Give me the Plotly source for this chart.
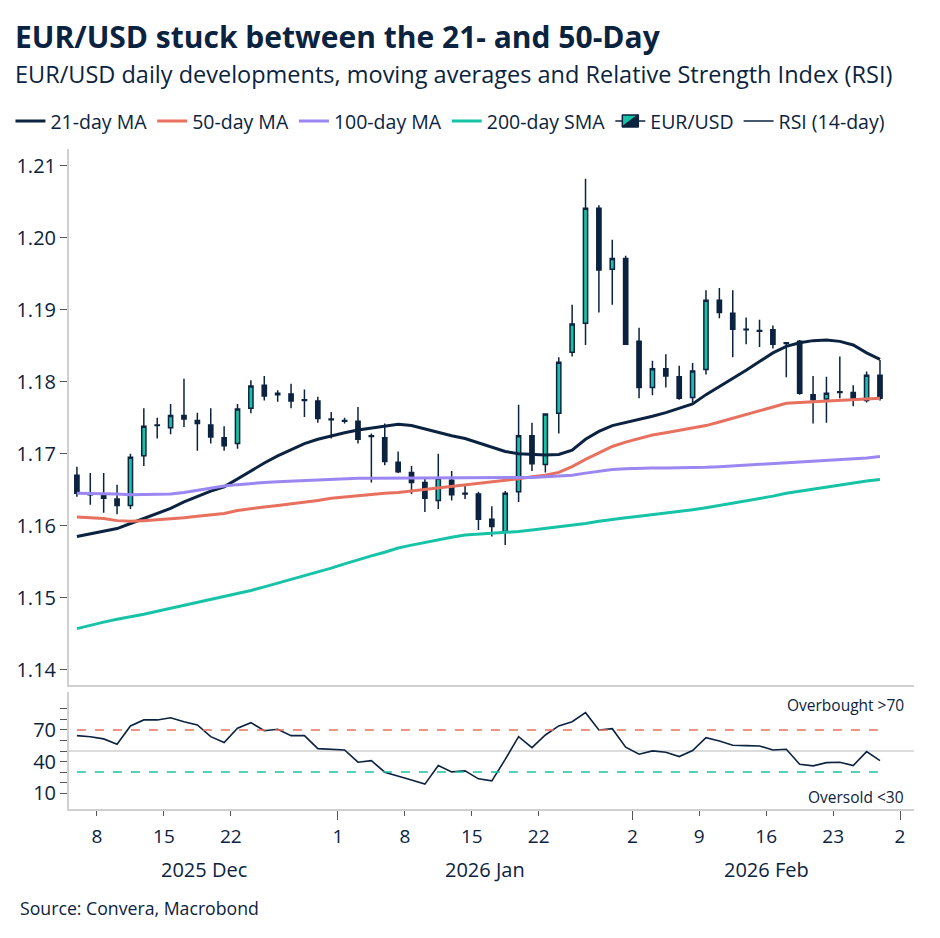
import plotly.graph_objects as go

# ---------------- data ----------------
dates = ["2025-12-04", "2025-12-05", "2025-12-08", "2025-12-09", "2025-12-10", "2025-12-11", "2025-12-12",
         "2025-12-15", "2025-12-16", "2025-12-17", "2025-12-18", "2025-12-19", "2025-12-22", "2025-12-23",
         "2025-12-24", "2025-12-25", "2025-12-26", "2025-12-29", "2025-12-30", "2025-12-31", "2026-01-01",
         "2026-01-02", "2026-01-05", "2026-01-06", "2026-01-07", "2026-01-08", "2026-01-09", "2026-01-12",
         "2026-01-13", "2026-01-14", "2026-01-15", "2026-01-16", "2026-01-19", "2026-01-20", "2026-01-21",
         "2026-01-22", "2026-01-23", "2026-01-26", "2026-01-27", "2026-01-28", "2026-01-29", "2026-01-30",
         "2026-02-02", "2026-02-03", "2026-02-04", "2026-02-05", "2026-02-06", "2026-02-09", "2026-02-10",
         "2026-02-11", "2026-02-12", "2026-02-13", "2026-02-16", "2026-02-17", "2026-02-18", "2026-02-19",
         "2026-02-20", "2026-02-23", "2026-02-24", "2026-02-25", "2026-02-26"]

eur_open = [1.1670, 1.1644, 1.1642, 1.1637, 1.1628, 1.1697, 1.1740, 1.1736, 1.1753, 1.1746, 1.1740, 1.1722,
            1.1714, 1.1763, 1.1795, 1.1782, 1.1783, 1.1775, 1.1773, 1.1748, 1.1746, 1.1745, 1.1725, 1.1722,
            1.1688, 1.1674, 1.1660, 1.1635, 1.1663, 1.1645, 1.1644, 1.1609, 1.1592, 1.1647, 1.1725, 1.1685,
            1.1756, 1.1841, 1.1881, 1.2041, 1.1956, 1.1971, 1.1856, 1.1792, 1.1818, 1.1807, 1.1778, 1.1817,
            1.1913, 1.1895, 1.1873, 1.1871, 1.1872, 1.1854, 1.1856, 1.1782, 1.1776, 1.1786, 1.1785, 1.1774,
            1.1809]
eur_high = [1.1682, 1.1673, 1.1673, 1.1657, 1.1700, 1.1763, 1.1750, 1.1769, 1.1804, 1.1757, 1.1763, 1.1738,
            1.1769, 1.1802, 1.1808, 1.1788, 1.1797, 1.1789, 1.1779, 1.1758, 1.1750, 1.1765, 1.1728, 1.1742,
            1.1703, 1.1683, 1.1666, 1.1700, 1.1676, 1.1657, 1.1647, 1.1627, 1.1648, 1.1768, 1.1743, 1.1756,
            1.1834, 1.1907, 1.2082, 1.2045, 1.1997, 1.1975, 1.1875, 1.1829, 1.1838, 1.1822, 1.1826, 1.1927,
            1.1930, 1.1927, 1.1889, 1.1886, 1.1878, 1.1855, 1.1858, 1.1808, 1.1807, 1.1835, 1.1795, 1.1814,
            1.1830]
eur_low = [1.1640, 1.1629, 1.1618, 1.1616, 1.1623, 1.1683, 1.1721, 1.1727, 1.1737, 1.1704, 1.1714, 1.1704,
           1.1707, 1.1756, 1.1774, 1.1772, 1.1763, 1.1751, 1.1743, 1.1721, 1.1742, 1.1714, 1.1660, 1.1684,
           1.1673, 1.1644, 1.1619, 1.1623, 1.1635, 1.1637, 1.1594, 1.1585, 1.1573, 1.1633, 1.1676, 1.1674,
           1.1728, 1.1835, 1.1851, 1.1896, 1.1907, 1.1851, 1.1777, 1.1781, 1.1792, 1.1775, 1.1771, 1.1810,
           1.1888, 1.1834, 1.1852, 1.1848, 1.1846, 1.1806, 1.1782, 1.1742, 1.1743, 1.1777, 1.1766, 1.1771,
           1.1774]
eur_close = [1.1645, 1.1643, 1.1638, 1.1628, 1.1695, 1.1738, 1.1739, 1.1753, 1.1748, 1.1742, 1.1723, 1.1711,
             1.1762, 1.1794, 1.1780, 1.1784, 1.1773, 1.1774, 1.1749, 1.1747, 1.1745, 1.1720, 1.1724, 1.1689,
             1.1675, 1.1660, 1.1638, 1.1666, 1.1643, 1.1644, 1.1609, 1.1599, 1.1645, 1.1725, 1.1686, 1.1755,
             1.1827, 1.1880, 1.2041, 1.1955, 1.1971, 1.1852, 1.1792, 1.1818, 1.1808, 1.1777, 1.1815, 1.1913,
             1.1896, 1.1873, 1.1872, 1.1870, 1.1852, 1.1853, 1.1784, 1.1775, 1.1784, 1.1785, 1.1777, 1.1809,
             1.1777]

ma21 = [1.1585, 1.1589, 1.1592, 1.1596, 1.1603, 1.1610, 1.1617, 1.1624, 1.1633, 1.1641, 1.1648, 1.1654,
        1.1665, 1.1677, 1.1687, 1.1697, 1.1706, 1.1714, 1.1720, 1.1725, 1.1729, 1.1733, 1.1736, 1.1739,
        1.1741, 1.1739, 1.1734, 1.1729, 1.1725, 1.1721, 1.1715, 1.1708, 1.1703, 1.1700, 1.1699, 1.1698,
        1.1699, 1.1705, 1.1720, 1.1731, 1.1739, 1.1743, 1.1747, 1.1752, 1.1757, 1.1763, 1.1769, 1.1782,
        1.1793, 1.1804, 1.1816, 1.1828, 1.1840, 1.1849, 1.1854, 1.1857, 1.1858, 1.1856, 1.1851, 1.1840,
        1.1831]
ma50 = [1.1612, 1.1611, 1.1610, 1.1607, 1.1606, 1.1607, 1.1608, 1.1609, 1.1611, 1.1613, 1.1615, 1.1617,
        1.1621, 1.1624, 1.1626, 1.1628, 1.1630, 1.1632, 1.1635, 1.1638, 1.1640, 1.1642, 1.1643, 1.1645,
        1.1646, 1.1648, 1.1650, 1.1652, 1.1654, 1.1656, 1.1659, 1.1661, 1.1663, 1.1665, 1.1668, 1.1670,
        1.1674, 1.1682, 1.1692, 1.1701, 1.1710, 1.1716, 1.1721, 1.1726, 1.1729, 1.1732, 1.1735, 1.1739,
        1.1744, 1.1749, 1.1755, 1.1760, 1.1765, 1.1770, 1.1771, 1.1772, 1.1773, 1.1774, 1.1775, 1.1776,
        1.1777]
ma100 = [1.1645, 1.1645, 1.1644, 1.1644, 1.1643, 1.1643, 1.1643, 1.1644, 1.1646, 1.1649, 1.1653, 1.1655,
         1.1657, 1.1659, 1.1660, 1.1661, 1.1662, 1.1663, 1.1664, 1.1665, 1.1665, 1.1666, 1.1666, 1.1666,
         1.1667, 1.1667, 1.1667, 1.1667, 1.1667, 1.1667, 1.1667, 1.1666, 1.1666, 1.1666, 1.1667, 1.1668,
         1.1669, 1.1670, 1.1673, 1.1676, 1.1678, 1.1679, 1.1680, 1.1680, 1.1680, 1.1680, 1.1681, 1.1681,
         1.1682, 1.1683, 1.1684, 1.1686, 1.1687, 1.1688, 1.1689, 1.1690, 1.1690, 1.1691, 1.1692, 1.1694,
         1.1696]
sma200 = [1.1457, 1.1462, 1.1466, 1.1470, 1.1473, 1.1477, 1.1481, 1.1485, 1.1489, 1.1493, 1.1497, 1.1501,
          1.1506, 1.1510, 1.1515, 1.1520, 1.1525, 1.1530, 1.1536, 1.1541, 1.1547, 1.1553, 1.1558, 1.1563,
          1.1569, 1.1573, 1.1577, 1.1580, 1.1584, 1.1587, 1.1588, 1.1589, 1.1590, 1.1592, 1.1594, 1.1596,
          1.1598, 1.1600, 1.1603, 1.1606, 1.1609, 1.1611, 1.1613, 1.1615, 1.1617, 1.1620, 1.1622, 1.1625,
          1.1628, 1.1631, 1.1635, 1.1638, 1.1641, 1.1645, 1.1648, 1.1651, 1.1654, 1.1657, 1.1660, 1.1662,
          1.1664]
rsi14 = [64.6, 63.6, 61.5, 56.4, 73.8, 79.5, 79.5, 81.6, 77.8, 74.7, 63.6, 58.0, 71.6, 76.9, 69.3, 70.6,
         64.6, 64.6, 52.3, 51.3, 51.0, 39.4, 40.9, 29.9, 26.4, 22.6, 18.6, 36.2, 30.2, 31.2, 23.6, 21.7,
         42.0, 63.6, 53.2, 65.2, 73.8, 77.8, 86.4, 70.0, 71.2, 53.6, 47.0, 50.1, 48.9, 44.7, 50.4, 62.7,
         59.6, 55.5, 55.1, 54.8, 51.0, 51.7, 37.5, 35.9, 39.0, 39.4, 36.2, 49.4, 40.9]

OVERBOUGHT = 70
OVERSOLD = 30
RSI_MID = 50

price_ticks = [1.14, 1.15, 1.16, 1.17, 1.18, 1.19, 1.20, 1.21]
rsi_tickvals = [10, 20, 30, 40, 50, 60, 70, 80, 90]
rsi_ticktext = ["10", "", "", "40", "", "", "70", "", ""]
x_tickvals = ["2025-12-08", "2025-12-15", "2025-12-22", "2026-01-01", "2026-01-08", "2026-01-15",
              "2026-01-22", "2026-02-02", "2026-02-09", "2026-02-16", "2026-02-23", "2026-03-02"]
x_ticktext = ["8", "15", "22", "1", "8", "15", "22", "2", "9", "16", "23", "2"]
month_starts = ["2026-01-01", "2026-02-02", "2026-03-02"]
month_labels = ["2025 Dec", "2026 Jan", "2026 Feb"]
month_label_pos = ["2025-12-18", "2026-01-16", "2026-02-16"]

# ---------------- style ----------------
NAVY = "#0B2340"
TEAL = "#17C3A7"
SALMON = "#E8705F"
PURPLE = "#9B87F2"
AXIS_GREY = "#D0D0D0"
TEXT = "#0B2340"
FONT = "Open Sans"
DAY_MS = 86400000

fig = go.Figure()

line_common = dict(mode="lines", xaxis="x", yaxis="y", xperiod=DAY_MS, xperiodalignment="middle",
                   hoverinfo="skip")
fig.add_trace(go.Scatter(x=dates, y=ma21, name="21-day MA", line=dict(color=NAVY, width=3), **line_common))
fig.add_trace(go.Scatter(x=dates, y=ma50, name="50-day MA", line=dict(color=SALMON, width=3), **line_common))
fig.add_trace(go.Scatter(x=dates, y=ma100, name="100-day MA", line=dict(color=PURPLE, width=3), **line_common))
fig.add_trace(go.Scatter(x=dates, y=sma200, name="200-day SMA", line=dict(color=TEAL, width=3), **line_common))

fig.add_trace(go.Candlestick(
    x=dates, open=eur_open, high=eur_high, low=eur_low, close=eur_close, name="EUR/USD",
    xaxis="x", yaxis="y", xperiod=DAY_MS, xperiodalignment="middle",
    increasing=dict(fillcolor=TEAL, line=dict(color=NAVY, width=1.5)),
    decreasing=dict(fillcolor=NAVY, line=dict(color=NAVY, width=1.5)),
    whiskerwidth=0,
))

fig.add_trace(go.Scatter(x=dates, y=rsi14, name="RSI (14-day)", mode="lines", xaxis="x2", yaxis="y2",
                         xperiod=DAY_MS, xperiodalignment="middle",
                         line=dict(color=NAVY, width=1.6)))
fig.add_trace(go.Scatter(x=[dates[0], dates[-1]], y=[OVERBOUGHT, OVERBOUGHT], mode="lines", xaxis="x2",
                         yaxis="y2", xperiod=DAY_MS, xperiodalignment="middle", showlegend=False,
                         line=dict(color=SALMON, width=1.5, dash="dash")))
fig.add_trace(go.Scatter(x=[dates[0], dates[-1]], y=[OVERSOLD, OVERSOLD], mode="lines", xaxis="x2",
                         yaxis="y2", xperiod=DAY_MS, xperiodalignment="middle", showlegend=False,
                         line=dict(color=TEAL, width=1.5, dash="dash")))

xrange = ["2025-12-03 21:50", "2026-03-03 01:00"]
breaks = [dict(bounds=["sat", "mon"])]

fig.update_layout(
    width=940, height=938,
    margin=dict(l=68, r=26, t=149, b=129),
    paper_bgcolor="white", plot_bgcolor="white",
    font=dict(family=FONT, color=TEXT, size=19),
    boxgap=0.55,
    showlegend=True,
    legend=dict(orientation="h", x=-0.068, xanchor="left", y=1.042, yanchor="middle",
                font=dict(size=19.5, color=TEXT), itemwidth=30, tracegroupgap=0,
                bgcolor="rgba(0,0,0,0)"),
    xaxis=dict(type="date", domain=[0, 1], anchor="y", range=xrange, rangebreaks=breaks,
               rangeslider=dict(visible=False), showline=True, linecolor=AXIS_GREY, linewidth=2,
               showticklabels=False, ticks="", showgrid=False, zeroline=False),
    yaxis=dict(domain=[0.1879, 1], anchor="x", range=[1.13787, 1.21232], tickvals=price_ticks,
               tickformat=".2f", showline=True, linecolor=AXIS_GREY, linewidth=2, ticks="outside",
               ticklen=7, tickcolor="#555555", tickwidth=1, showgrid=False, zeroline=False,
               tickfont=dict(size=20, color=TEXT)),
    xaxis2=dict(type="date", domain=[0, 1], anchor="y2", range=xrange, rangebreaks=breaks,
                showline=True, linecolor=AXIS_GREY, linewidth=2, tickvals=x_tickvals, ticktext=x_ticktext,
                ticks="outside", ticklen=5, tickcolor="#555555", tickwidth=1, showgrid=False,
                zeroline=False, tickfont=dict(size=19, color=TEXT), ticklabelstandoff=4,
                minor=dict(tickmode="array", tickvals=month_starts, ticks="outside", ticklen=9,
                           tickcolor="#555555", tickwidth=1, showgrid=False)),
    yaxis2=dict(domain=[0, 0.1773], anchor="x2", range=[-5, 106], tickvals=rsi_tickvals,
                ticktext=rsi_ticktext, showline=True, linecolor=AXIS_GREY, linewidth=2, ticks="outside",
                ticklen=7, tickcolor="#555555", tickwidth=1, showgrid=False, zeroline=False,
                tickfont=dict(size=20, color=TEXT)),
)

fig.add_shape(type="line", xref="x2 domain", x0=0, x1=1, yref="y2", y0=RSI_MID, y1=RSI_MID,
              line=dict(color=AXIS_GREY, width=1.5), layer="below")

annotations = [
    dict(text="<b>EUR/USD stuck between the 21- and 50-Day</b>", xref="paper", yref="paper",
         x=-0.0662, y=1.1712, xanchor="left", yanchor="middle", showarrow=False,
         font=dict(size=30, color=TEXT)),
    dict(text="EUR/USD daily developments, moving averages and Relative Strength Index (RSI)",
         xref="paper", yref="paper", x=-0.0662, y=1.1136, xanchor="left", yanchor="middle",
         showarrow=False, font=dict(size=23.5, color=TEXT)),
    dict(text="Source: Convera, Macrobond", xref="paper", yref="paper", x=-0.0603, y=-0.150,
         xanchor="left", yanchor="middle", showarrow=False, font=dict(size=17.7, color=TEXT)),
    dict(text="Overbought >70", xref="x2 domain", yref="y2", x=0.9905, y=93.7, xanchor="right",
         yanchor="middle", showarrow=False, font=dict(size=15.5, color=TEXT)),
    dict(text="Oversold <30", xref="x2 domain", yref="y2", x=0.9905, y=6.5, xanchor="right",
         yanchor="middle", showarrow=False, font=dict(size=15.5, color=TEXT)),
]
for lbl, pos in zip(month_labels, month_label_pos):
    annotations.append(dict(text=lbl, xref="x2", yref="paper", x=pos, y=-0.0924, xanchor="center",
                            yanchor="middle", showarrow=False, font=dict(size=20, color=TEXT)))
fig.update_layout(annotations=annotations)

fig.write_html("out.html")
